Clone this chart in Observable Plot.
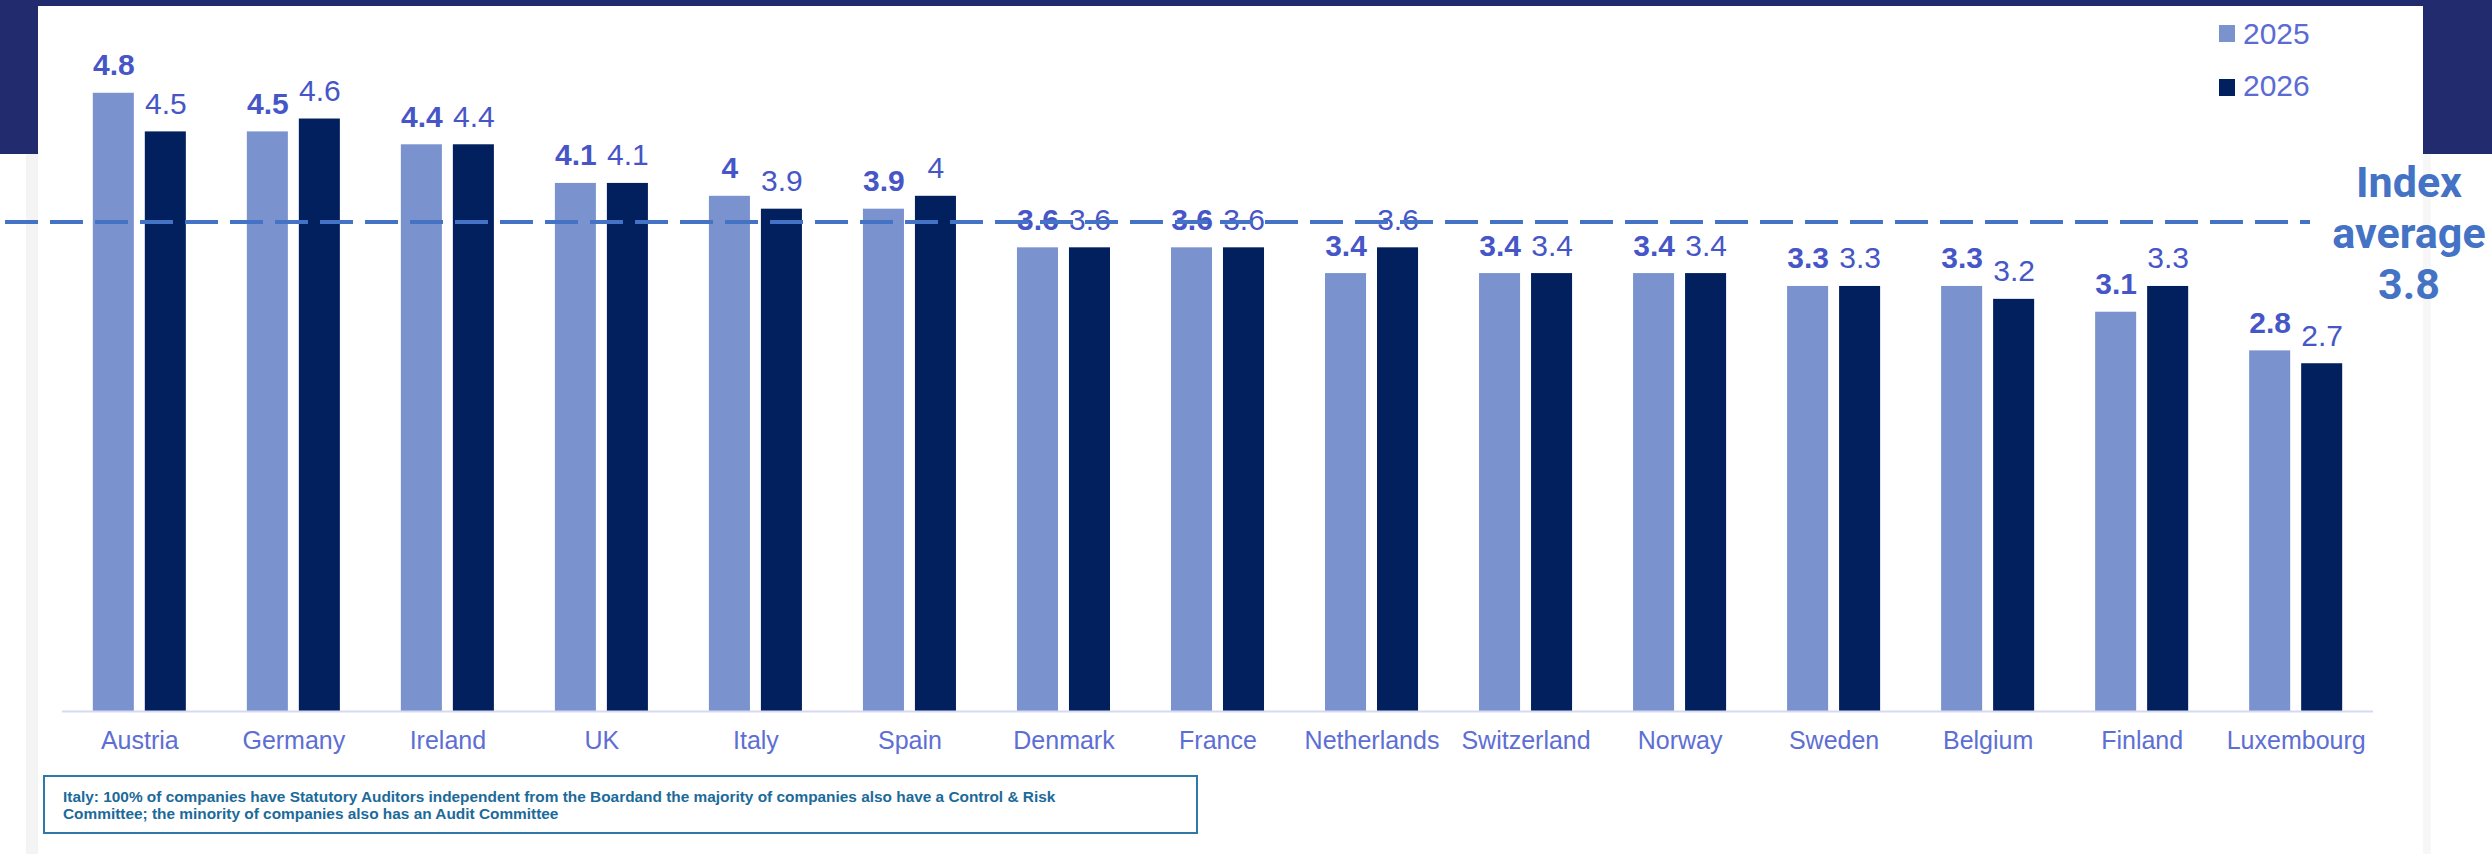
<!DOCTYPE html>
<html>
<head>
<meta charset="utf-8">
<script src="https://cdn.jsdelivr.net/npm/d3@7"></script>
<script src="https://cdn.jsdelivr.net/npm/@observablehq/plot@0.6"></script>
<style>
  html, body { margin: 0; padding: 0; background: #ffffff; }
  #page { position: relative; width: 2492px; height: 854px; overflow: hidden; background: #ffffff; font-family: "Liberation Sans", Arial, sans-serif; }
  .deco { position: absolute; }
  #chart { position: absolute; left: 0; top: 0; }
  #chart svg { display: block; }
  .leg-sq { position: absolute; width: 16px; height: 17px; }
  .leg-tx { position: absolute; font-size: 30px; line-height: 30px; color: #5b6bd3; white-space: nowrap; }
  #avg { position: absolute; left: 2309px; top: 157px; width: 200px; text-align: center; font-family: Roboto, "Liberation Sans", sans-serif; font-weight: 700; font-size: 43px; line-height: 51px; color: #4472c4; }
  #note { position: absolute; left: 43px; top: 775px; width: 1155px; height: 59px; box-sizing: border-box; border: 2px solid #2f78a8; padding: 11px 0 0 18px; font-family: "Liberation Sans", Arial, sans-serif; font-weight: 700; font-size: 15.4px; line-height: 17px; color: #1b6a99; white-space: nowrap; }
</style>
</head>
<body>
<div id="page">
  <div class="deco" style="left:0;top:0;width:2492px;height:6px;background:#232b6f"></div>
  <div class="deco" style="left:0;top:0;width:38px;height:154px;background:#232b6f"></div>
  <div class="deco" style="left:2423px;top:0;width:69px;height:154px;background:#232b6f"></div>
  <div class="deco" style="left:26px;top:154px;width:12px;height:700px;background:#f4f4f4"></div>
  <div class="deco" style="left:2423px;top:154px;width:8px;height:700px;background:#f7f7f7"></div>
  <div id="chart"></div>
  <div id="legend"></div>
  <div id="avg"></div>
  <div id="note"></div>
</div>
<script>
// ---- data ----
const countries = ["Austria", "Germany", "Ireland", "UK", "Italy", "Spain", "Denmark", "France", "Netherlands", "Switzerland", "Norway", "Sweden", "Belgium", "Finland", "Luxembourg"];
const values2025 = [4.8, 4.5, 4.4, 4.1, 4, 3.9, 3.6, 3.6, 3.4, 3.4, 3.4, 3.3, 3.3, 3.1, 2.8];
const values2026 = [4.5, 4.6, 4.4, 4.1, 3.9, 4, 3.6, 3.6, 3.6, 3.4, 3.4, 3.3, 3.2, 3.3, 2.7];
const years = ["2025", "2026"];
const indexAverage = 3.8;
const avgLabel = ["Index", "average", "3.8"];
const footnoteLines = [
  "Italy: 100% of companies have Statutory Auditors independent from the Boardand the majority of companies also have a Control & Risk",
  "Committee; the minority of companies also has an Audit Committee"
];

// ---- styles ----
const color2025 = "#7a93cf";
const color2026 = "#02205e";
const labelColor = "#4656c7";
const axisColor = "#5d6ed4";

const rows = countries.map((c, i) => ({country: c, v2025: values2025[i], v2026: values2026[i]}));

const chart = Plot.plot({
  width: 2492,
  height: 854,
  marginLeft: 62,
  marginRight: 119,
  marginTop: 67,
  marginBottom: 143,
  style: {background: "transparent", fontFamily: "'Liberation Sans', Arial, sans-serif", overflow: "visible"},
  x: {domain: countries, paddingInner: 0.396, paddingOuter: 0.2, round: false, label: null},
  y: {domain: [0, 5], axis: null},
  marks: [
    Plot.barY(rows, {x: "country", y: "v2025", fill: color2025, insetRight: 52}),
    Plot.barY(rows, {x: "country", y: "v2026", fill: color2026, insetLeft: 52}),
    Plot.ruleY([0], {stroke: "#d6d9f1", strokeWidth: 2}),
    Plot.text(rows, {x: "country", y: "v2025", text: d => String(d.v2025), dx: -26, dy: -18, lineAnchor: "bottom", fontSize: 30, fontWeight: "bold", fill: labelColor}),
    Plot.text(rows, {x: "country", y: "v2026", text: d => String(d.v2026), dx: 26, dy: -18, lineAnchor: "bottom", fontSize: 30, fill: labelColor}),
    Plot.axisX({tickSize: 0, tickPadding: 20, fontSize: 25, color: axisColor, label: null}),
    Plot.ruleY([indexAverage], {stroke: "#4472c4", strokeWidth: 4, strokeDasharray: "33,12", insetLeft: -57, insetRight: 63})
  ]
});
document.getElementById("chart").appendChild(chart);

// legend
const legend = document.getElementById("legend");
const legendColors = [color2025, color2026];
years.forEach((yr, i) => {
  const sq = document.createElement("div");
  sq.className = "leg-sq";
  sq.style.left = "2219px";
  sq.style.top = (25 + i * 54) + "px";
  sq.style.background = legendColors[i];
  legend.appendChild(sq);
  const tx = document.createElement("div");
  tx.className = "leg-tx";
  tx.style.left = "2243px";
  tx.style.top = (19 + i * 52) + "px";
  tx.textContent = yr;
  legend.appendChild(tx);
});

// index average label
const avg = document.getElementById("avg");
avgLabel.forEach(t => { const d = document.createElement("div"); d.textContent = t; avg.appendChild(d); });

// footnote
const note = document.getElementById("note");
footnoteLines.forEach(t => { const d = document.createElement("div"); d.textContent = t; note.appendChild(d); });
</script>
</body>
</html>
